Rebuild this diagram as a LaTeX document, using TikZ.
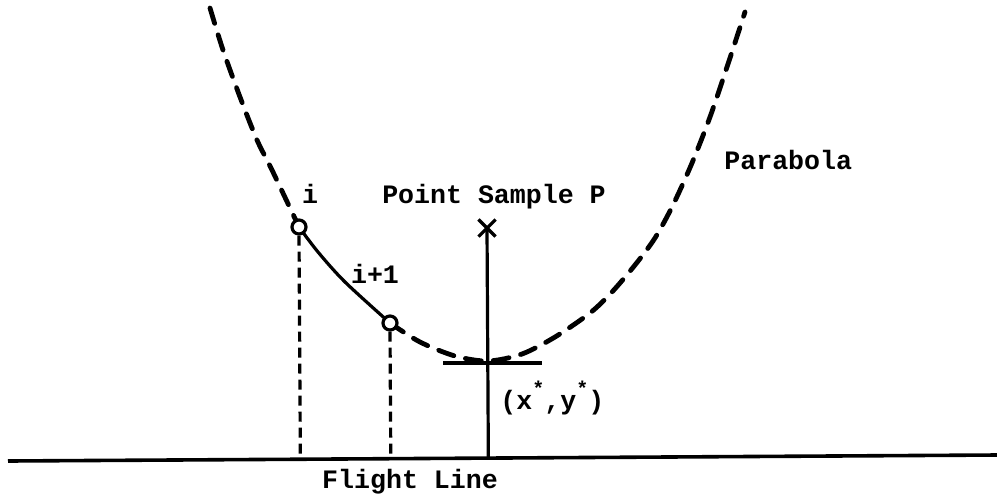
\documentclass[tikz,border=0pt]{standalone}
\usepackage{fontspec}
\setmonofont{Liberation Mono}
\usetikzlibrary{calc,shapes.misc}
\tikzset{
  lbl/.style={font=\ttfamily\bfseries\fontsize{13.3}{15}\selectfont, inner sep=0pt},
  para/.style={line width=2.4pt, dash pattern=on 8pt off 6pt, line cap=round},
  solidline/.style={line width=1.6pt},
  vdash/.style={line width=1.6pt, dash pattern=on 5pt off 3pt},
  pt/.style={circle, draw, line width=1.6pt, fill=white, inner sep=0pt, minimum size=7pt},
}
\begin{document}
\begin{tikzpicture}[x=0.5pt,y=-0.5pt]
\useasboundingbox (0,0) rectangle (997,500);
% flight line
\coordinate (fl0) at (8,461);
\coordinate (fl1) at (997,455);
\draw[line width=1.8pt] (fl0) -- (fl1);
% parabola
\draw[para] plot[smooth] coordinates {(210,8) (223,50) (240,97) (257,140) (272,170) (299,227)};
\draw[solidline] plot[smooth] coordinates {(299,227) (318,252) (345,282) (390,323)};
\draw[para] plot[smooth] coordinates {(390,323) (420,342) (455,356) (488,361) (522,354) (555,337) (590,313) (612,292) (635,265) (655,238) (673,205) (692,163) (710,117) (727,67) (745,12)};
% points
\node[pt] (pi) at (299,227) {};
\node[pt] (pj) at (390,323) {};
\draw[vdash] (pi.south) -- ($(fl0)!(pi)!(fl1)$);
\draw[vdash] (pj.south) -- ($(fl0)!(pj)!(fl1)$);
% point sample
\node[cross out, draw, line width=1.6pt, minimum size=7pt, inner sep=0pt] (ps) at (487,228) {};
\draw[solidline] (ps.center) -- ($(fl0)!(ps)!(fl1)$);
% minimum tangent
\coordinate (m0) at (443,363);
\coordinate (m1) at (542,363);
\draw[line width=1.9pt] (m0) -- (m1);
% labels
\node[lbl, anchor=base] (li) at (310,203) {i};
\node[lbl, anchor=base] (lps) at (494,203) {Point Sample P};
\node[lbl, anchor=base] (lj) at (375,283) {i+1};
\node[lbl, anchor=base west] (lxy) at (500,409) {(x\raisebox{0.5em}{\fontsize{10}{10}\selectfont *},y\raisebox{0.5em}{\fontsize{10}{10}\selectfont *})};
\node[lbl, anchor=base] (lfl) at (410,488) {Flight Line};
\node[lbl, anchor=base west] (lpar) at (724,169) {Parabola};
\end{tikzpicture}
\end{document}
